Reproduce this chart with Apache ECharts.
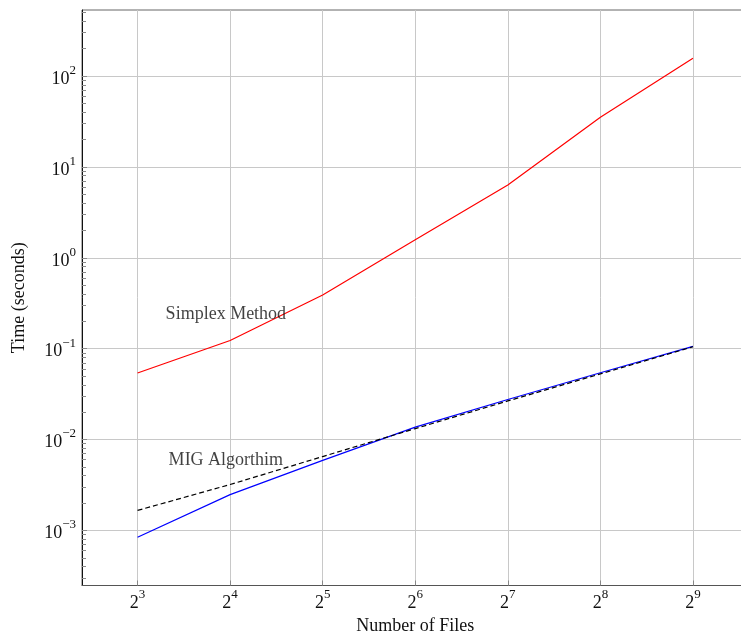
<!DOCTYPE html>
<html>
<head>
<meta charset="utf-8">
<script src="https://cdn.jsdelivr.net/npm/echarts@6/dist/echarts.min.js"></script>
<style>html,body{margin:0;padding:0;background:#fff}#c{width:741px;height:633px}</style>
</head>
<body>
<div id="c"></div>
<script>
// Data
const files = [8, 16, 32, 64, 128, 256, 512];
const simplex = [0.054, 0.123, 0.39, 1.58, 6.34, 35.3, 157];
const mig = [0.00084, 0.00248, 0.0059, 0.0137, 0.0276, 0.0543, 0.106];
const reference = [0.00166, 0.0032, 0.0065, 0.0132, 0.0266, 0.0528, 0.105];
const xTicks = [8, 16, 32, 64, 128, 256, 512];
const yTicks = [0.001, 0.01, 0.1, 1, 10, 100];
const yMinorTicks = [
  3e-4, 4e-4, 5e-4, 6e-4, 7e-4, 8e-4, 9e-4,
  2e-3, 3e-3, 4e-3, 5e-3, 6e-3, 7e-3, 8e-3, 9e-3,
  2e-2, 3e-2, 4e-2, 5e-2, 6e-2, 7e-2, 8e-2, 9e-2,
  0.2, 0.3, 0.4, 0.5, 0.6, 0.7, 0.8, 0.9,
  2, 3, 4, 5, 6, 7, 8, 9,
  20, 30, 40, 50, 60, 70, 80, 90,
  200, 300, 400, 500
];
const textLabels = [
  { name: 'Simplex Method', x: 15.5, y: 0.237 },
  { name: 'MIG Algorthim', x: 15.5, y: 0.0059 }
];
const xMin = Math.pow(2, 2.4), xMax = Math.pow(2, 9.6);
const yMin = Math.pow(10, -3.606), yMax = Math.pow(10, 2.727);

const FONT = '"Liberation Serif", "DejaVu Serif", serif';
const TXT = '#111';
const rich = {
  b: { fontSize: 18, fontFamily: FONT, color: TXT, lineHeight: 24, verticalAlign: 'bottom' },
  s: { fontSize: 13, fontFamily: FONT, color: TXT, lineHeight: 9, verticalAlign: 'top' }
};
function supLabel(base, v) {
  const l = Math.log(v) / Math.log(base);
  const e = Math.round(l);
  if (Math.abs(l - e) > 1e-6) return '';
  const es = e < 0 ? '\u2212' + (-e) : String(e);
  return '{b|' + base + '}{s|' + es + '}';
}
function pts(ys) { return files.map((f, i) => [f, ys[i]]); }

const chart = echarts.init(document.getElementById('c'), null, { renderer: 'canvas' });
chart.setOption({
  animation: false,
  backgroundColor: '#fff',
  grid: { left: 82, right: -7.5, top: 10, bottom: 47.5, outerBoundsMode: 'none', containLabel: false,
          show: true, borderColor: '#666', borderWidth: 1, backgroundColor: 'transparent' },
  xAxis: {
    type: 'log', logBase: 2, min: xMin, max: xMax,
    name: 'Number of Files', nameLocation: 'middle', nameGap: 28,
    nameTextStyle: { fontSize: 18, fontFamily: FONT, color: TXT },
    axisLine: { show: true, lineStyle: { color: '#555', width: 1 } },
    axisTick: { show: true, inside: true, length: 5, customValues: xTicks, lineStyle: { color: '#888' } },
    axisLabel: { margin: 3, customValues: xTicks, formatter: v => supLabel(2, v), rich: rich },
    splitLine: { show: true, lineStyle: { color: '#c8c8c8', width: 1 } }
  },
  yAxis: [{
    type: 'log', logBase: 10, min: yMin, max: yMax,
    name: 'Time (seconds)', nameLocation: 'middle', nameGap: 54,
    nameTextStyle: { fontSize: 18, fontFamily: FONT, color: TXT },
    axisLine: { show: true, lineStyle: { color: '#111', width: 1 } },
    axisTick: { show: true, inside: true, length: 5, customValues: yTicks, lineStyle: { color: '#888' } },
    axisLabel: { margin: 6, customValues: yTicks, formatter: v => supLabel(10, v), rich: rich },
    splitLine: { show: true, lineStyle: { color: '#c8c8c8', width: 1 } }
  }, {
    type: 'log', logBase: 10, min: yMin, max: yMax, position: 'left',
    axisLine: { show: false },
    axisLabel: { show: false },
    splitLine: { show: false },
    axisTick: { show: true, inside: true, length: 4, customValues: yMinorTicks, lineStyle: { color: '#888' } }
  }],
  series: [
    { type: 'line', data: pts(simplex), symbol: 'none', lineStyle: { color: '#ff0000', width: 1.2 }, z: 3 },
    { type: 'line', data: pts(mig), symbol: 'none', lineStyle: { color: '#0000ff', width: 1.2 }, z: 3 },
    { type: 'line', data: pts(reference), symbol: 'none', lineStyle: { color: '#000', width: 1.2, type: [5, 3] }, z: 4 },
    {
      type: 'scatter', symbolSize: 0, z: 5,
      data: textLabels.map(t => ({ name: t.name, value: [t.x, t.y] })),
      label: { show: true, position: 'inside', formatter: p => p.name, fontSize: 18, fontFamily: FONT, color: TXT },
      silent: true
    }
  ]
});
</script>
</body>
</html>
